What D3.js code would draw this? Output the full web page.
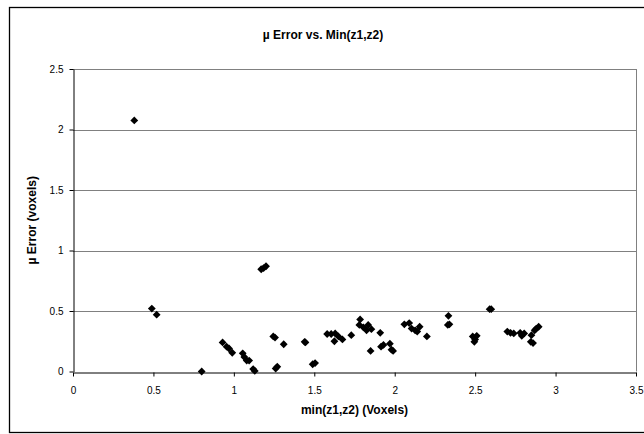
<!DOCTYPE html>
<html>
<head>
<meta charset="utf-8">
<script src="https://cdn.jsdelivr.net/npm/d3@7"></script>
<style>
  body { margin: 0; background: #fff; }
  text { font-family: "Liberation Sans", Arial, sans-serif; }
</style>
</head>
<body>
<div id="chart"></div>
<script>
// min(z1,z2) values and matching mu error
const minZ = [
  0.381, 0.49, 0.52, 0.80, 0.93, 0.955, 0.97, 0.99, 1.055, 1.065, 1.08, 1.095, 1.12, 1.13,
  1.17, 1.185, 1.2, 1.245, 1.256, 1.26, 1.27, 1.31, 1.44, 1.445, 1.49, 1.505,
  1.58, 1.605, 1.625, 1.63, 1.65, 1.675, 1.73, 1.78, 1.785, 1.805, 1.825, 1.835, 1.85, 1.855,
  1.91, 1.915, 1.93, 1.97, 1.98, 1.99, 2.06, 2.09, 2.105, 2.127, 2.14, 2.155, 2.20,
  2.33, 2.334, 2.34, 2.485, 2.495, 2.5, 2.51, 2.59, 2.60,
  2.70, 2.72, 2.74, 2.78, 2.79, 2.805, 2.846, 2.85, 2.86, 2.87, 2.88, 2.895
];
const muError = [
  2.075, 0.52, 0.47, 0.0, 0.24, 0.205, 0.19, 0.155, 0.15, 0.12, 0.09, 0.09, 0.02, 0.005,
  0.845, 0.855, 0.87, 0.29, 0.28, 0.025, 0.04, 0.225, 0.245, 0.24, 0.06, 0.07,
  0.31, 0.31, 0.25, 0.315, 0.29, 0.265, 0.30, 0.385, 0.43, 0.365, 0.34, 0.385, 0.17, 0.35,
  0.32, 0.205, 0.22, 0.23, 0.18, 0.17, 0.39, 0.40, 0.355, 0.34, 0.33, 0.37, 0.29,
  0.385, 0.46, 0.39, 0.29, 0.245, 0.265, 0.295, 0.515, 0.515,
  0.33, 0.32, 0.315, 0.32, 0.295, 0.315, 0.245, 0.30, 0.235, 0.34, 0.355, 0.37
];
const xTicks = [0, 0.5, 1, 1.5, 2, 2.5, 3, 3.5];
const yTicks = [0, 0.5, 1, 1.5, 2, 2.5];

const W = 644, H = 434;
const svg = d3.select("#chart").append("svg")
  .attr("width", W).attr("height", H);

// chart area border (runs off the right edge like the original)
svg.append("rect")
  .attr("x", 9.5).attr("y", 7.5)
  .attr("width", 660).attr("height", 425)
  .attr("fill", "none").attr("stroke", "#000").attr("stroke-width", 1.3);

const plot = { left: 73, right: 636, top: 69, bottom: 371.5 };
const x = d3.scaleLinear().domain([0, 3.5]).range([plot.left, plot.right]);
const y = d3.scaleLinear().domain([0, 2.5]).range([plot.bottom, plot.top]);

// gridlines
svg.append("g").selectAll("line")
  .data(yTicks.filter(d => d > 0))
  .enter().append("line")
  .attr("x1", plot.left).attr("x2", plot.right)
  .attr("y1", d => Math.round(y(d)) + 0.5).attr("y2", d => Math.round(y(d)) + 0.5)
  .attr("stroke", "#808080").attr("stroke-width", 1);

// right edge of plot area
svg.append("line")
  .attr("x1", plot.right + 0.5).attr("x2", plot.right + 0.5)
  .attr("y1", plot.top).attr("y2", plot.bottom)
  .attr("stroke", "#808080");

// axes
const xAxis = svg.append("g")
  .attr("transform", `translate(0,${Math.round(plot.bottom) + 0.5})`)
  .call(d3.axisBottom(x).tickValues(xTicks).tickSize(4).tickSizeOuter(0).tickFormat(d3.format("")));
const yAxis = svg.append("g")
  .attr("transform", `translate(${plot.left + 0.5},0)`)
  .call(d3.axisLeft(y).tickValues(yTicks).tickSize(4).tickSizeOuter(0).tickFormat(d3.format("")));

[xAxis, yAxis].forEach(g => {
  g.select(".domain").attr("stroke", "#000");
  g.selectAll(".tick line").attr("stroke", "#000");
  g.selectAll(".tick text")
    .attr("font-family", "Liberation Sans, Arial, sans-serif")
    .attr("font-size", 10).attr("fill", "#000");
});
xAxis.selectAll(".tick text").attr("dy", "1.45em");
yAxis.selectAll(".tick text").attr("dx", "-0.3em");

// points
const r = 3.9;
const diamond = `M0,${-r}L${r},0L0,${r}L${-r},0Z`;
svg.append("g").selectAll("path")
  .data(minZ.map((v, i) => [v, muError[i]]))
  .enter().append("path")
  .attr("d", diamond)
  .attr("transform", d => `translate(${x(d[0])},${y(d[1])})`)
  .attr("fill", "#000");

// titles
svg.append("text")
  .attr("x", 323).attr("y", 39)
  .attr("text-anchor", "middle")
  .attr("font-size", 12).attr("font-weight", "bold")
  .text("µ Error vs. Min(z1,z2)");

svg.append("text")
  .attr("x", (plot.left + plot.right) / 2).attr("y", 414)
  .attr("text-anchor", "middle")
  .attr("font-size", 12).attr("font-weight", "bold")
  .text("min(z1,z2) (Voxels)");

svg.append("text")
  .attr("transform", `translate(36,${(plot.top + plot.bottom) / 2}) rotate(-90)`)
  .attr("text-anchor", "middle")
  .attr("font-size", 12).attr("font-weight", "bold")
  .text("µ Error (voxels)");
</script>
</body>
</html>
